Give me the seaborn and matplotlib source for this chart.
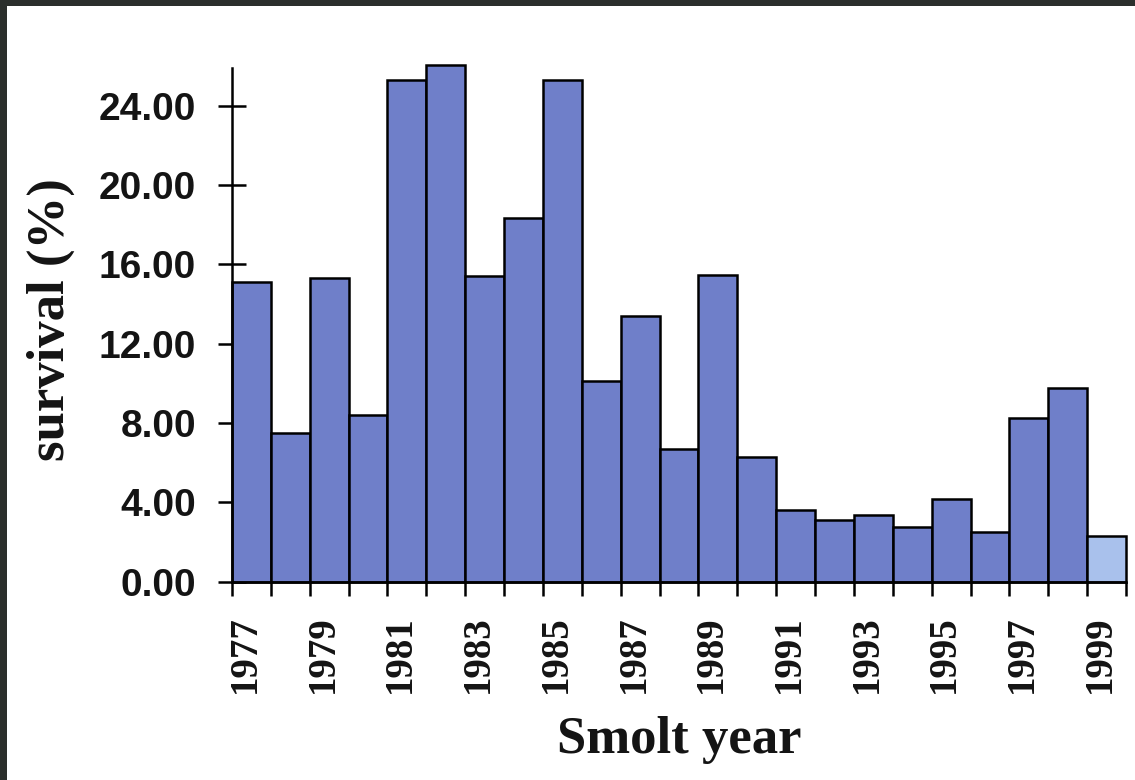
import pandas as pd
import matplotlib.pyplot as plt
import seaborn as sns
from matplotlib.patches import Rectangle

# Smolt survival by year
years = [1977, 1978, 1979, 1980, 1981, 1982, 1983, 1984, 1985, 1986, 1987, 1988,
         1989, 1990, 1991, 1992, 1993, 1994, 1995, 1996, 1997, 1998, 1999]
survival = [15.1, 7.5, 15.3, 8.4, 25.3, 26.05, 15.4, 18.35, 25.3, 10.1, 13.4, 6.7,
            15.45, 6.3, 3.6, 3.1, 3.35, 2.75, 4.15, 2.5, 8.25, 9.75, 2.3]
y_ticks = [0, 4, 8, 12, 16, 20, 24]

df = pd.DataFrame({"year": [str(y) for y in years], "survival": survival})

bar_blue = "#6f7fc9"
bar_light = "#a9c1ec"
palette = [bar_blue] * (len(years) - 1) + [bar_light]

sns.set_style("white")

fig = plt.figure(figsize=(11.35, 7.8), dpi=100)
fig.patch.set_facecolor("white")
ax = fig.add_axes([232 / 1135, 1 - 581.7 / 780, (1126 - 232) / 1135, (581.7 - 68) / 780])

sns.barplot(data=df, x="year", y="survival", hue="year", palette=palette,
            legend=False, width=1.0, edgecolor="black", linewidth=1.8,
            saturation=1, ax=ax)
for p in ax.patches:
    p.set_clip_on(False)

ax.set_xlim(-0.5, len(years) - 0.5)
ax.set_ylim(0, 25.9)

# y axis
ax.set_yticks(y_ticks)
ax.set_yticklabels([f"{v:.2f}" for v in y_ticks], fontfamily="Liberation Sans",
                   fontweight="bold", fontsize=28, color="#141414")
ax.tick_params(axis="y", left=True, direction="inout", length=19.5, width=1.8,
               pad=16, color="black")

# x axis: ticks at bar edges, labels every other year
edges = [i - 0.5 for i in range(len(years) + 1)]
ax.set_xticks(edges)
ax.set_xticklabels([""] * len(edges))
ax.tick_params(axis="x", which="major", bottom=True, direction="out", length=10,
               width=1.8, color="black")
lab_pos = [i - 0.5 + 0.34 for i in range(0, len(years), 2)]
ax.set_xticks(lab_pos, minor=True)
ax.set_xticklabels([str(years[i]) for i in range(0, len(years), 2)], minor=True,
                   rotation=90, fontfamily="Liberation Serif", fontweight="bold",
                   fontsize=28, color="#141414")
ax.tick_params(axis="x", which="minor", bottom=True, length=0, pad=24)

ax.set_xlabel("")
ax.set_ylabel("")
sns.despine(ax=ax)
for s in ["left", "bottom"]:
    ax.spines[s].set_linewidth(1.8)
    ax.spines[s].set_color("black")

fig.text(679 / 1135, 1 - 753 / 780, "Smolt year", ha="center", va="baseline",
         fontfamily="Liberation Serif", fontweight="bold", fontsize=38, color="#141414")
fig.text(51 / 1135, 1 - 320 / 780, "survival (%)", ha="center", va="center", rotation=90,
         fontfamily="Liberation Serif", fontweight="bold", fontsize=38, color="#141414")

# dark scan border along top and left
fig.patches.append(Rectangle((0, 1 - 6 / 780), 1, 6 / 780, transform=fig.transFigure,
                             facecolor="#2b2f2c", edgecolor="none"))
fig.patches.append(Rectangle((0, 0), 7 / 1135, 1, transform=fig.transFigure,
                             facecolor="#2b2f2c", edgecolor="none"))

fig.savefig("out.png", dpi=100)
plt.close()
